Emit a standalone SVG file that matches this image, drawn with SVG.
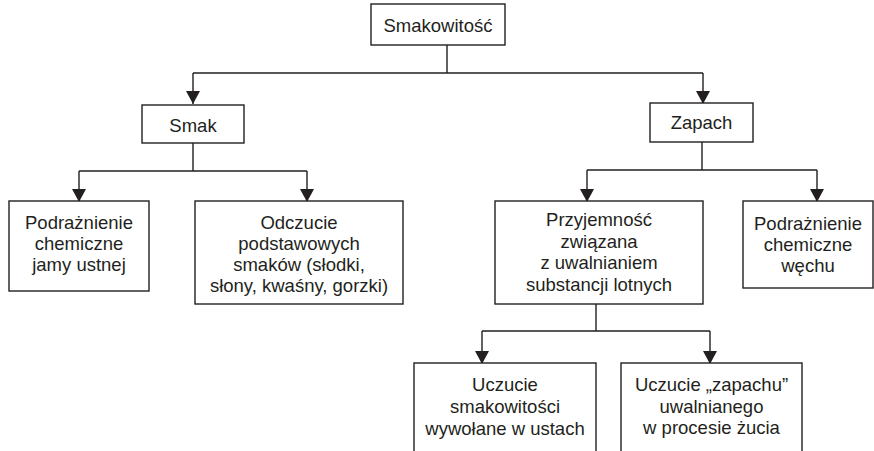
<svg xmlns="http://www.w3.org/2000/svg" width="874" height="451" viewBox="0 0 874 451">
<defs>
<style>
.box{fill:#fff;stroke:#231f20;stroke-width:1.4}
.ln{fill:none;stroke:#231f20;stroke-width:1.4}
.t{font-family:"Liberation Sans",Arial,sans-serif;font-size:18.5px;fill:#231f20;text-anchor:middle}
</style>
<marker id="ah" markerUnits="userSpaceOnUse" markerWidth="14" markerHeight="14" viewBox="0 0 14 14" refX="13" refY="7" orient="auto">
<path d="M0,0 L13,7 L0,14 Z" fill="#231f20"/>
</marker>
</defs>
<rect width="874" height="451" fill="#fff"/>
<g id="connectors">
<path class="ln" d="M447,45 V73 M193,73 H703"/>
<path class="ln" d="M193,73 V104" marker-end="url(#ah)"/>
<path class="ln" d="M703,73 V104" marker-end="url(#ah)"/>
<path class="ln" d="M193,143 V171 M79,171 H307"/>
<path class="ln" d="M79,171 V202" marker-end="url(#ah)"/>
<path class="ln" d="M307,171 V202" marker-end="url(#ah)"/>
<path class="ln" d="M702,142 V170 M587,170 H817"/>
<path class="ln" d="M587,170 V202" marker-end="url(#ah)"/>
<path class="ln" d="M817,170 V202" marker-end="url(#ah)"/>
<path class="ln" d="M596,304 V331 M482,331 H710"/>
<path class="ln" d="M482,331 V364" marker-end="url(#ah)"/>
<path class="ln" d="M710,331 V364" marker-end="url(#ah)"/>
</g>
<g id="smakowitosc">
<rect class="box" x="371" y="4" width="134" height="41"/>
<text class="t" x="438" y="32">Smakowitość</text>
</g>
<g id="smak">
<rect class="box" x="142" y="105" width="102" height="38"/>
<text class="t" x="193" y="132">Smak</text>
</g>
<g id="zapach">
<rect class="box" x="650" y="103" width="103" height="39"/>
<text class="t" x="701.5" y="129">Zapach</text>
</g>
<g id="podraznienie-jamy">
<rect class="box" x="9" y="201" width="140" height="90"/>
<text class="t" x="79" y="229">Podrażnienie</text>
<text class="t" x="79" y="250">chemiczne</text>
<text class="t" x="79" y="271">jamy ustnej</text>
</g>
<g id="odczucie">
<rect class="box" x="195" y="201" width="208" height="103"/>
<text class="t" x="299" y="229">Odczucie</text>
<text class="t" x="299" y="250">podstawowych</text>
<text class="t" x="299" y="271">smaków (słodki,</text>
<text class="t" x="299" y="292">słony, kwaśny, gorzki)</text>
</g>
<g id="przyjemnosc">
<rect class="box" x="495" y="201" width="208" height="103"/>
<text class="t" x="599" y="226">Przyjemność</text>
<text class="t" x="599" y="248">związana</text>
<text class="t" x="599" y="269">z uwalnianiem</text>
<text class="t" x="599" y="291">substancji lotnych</text>
</g>
<g id="podraznienie-wechu">
<rect class="box" x="743" y="201" width="130" height="87"/>
<text class="t" x="808" y="230">Podrażnienie</text>
<text class="t" x="808" y="251">chemiczne</text>
<text class="t" x="808" y="272">węchu</text>
</g>
<g id="uczucie-smakowitosci">
<rect class="box" x="414" y="363" width="182" height="100"/>
<text class="t" x="505" y="391">Uczucie</text>
<text class="t" x="505" y="413">smakowitości</text>
<text class="t" x="505" y="435">wywołane w ustach</text>
</g>
<g id="uczucie-zapachu">
<rect class="box" x="621" y="363" width="181" height="100"/>
<text class="t" x="711.5" y="391">Uczucie „zapachu”</text>
<text class="t" x="711.5" y="413">uwalnianego</text>
<text class="t" x="711.5" y="434">w procesie żucia</text>
</g>
</svg>
